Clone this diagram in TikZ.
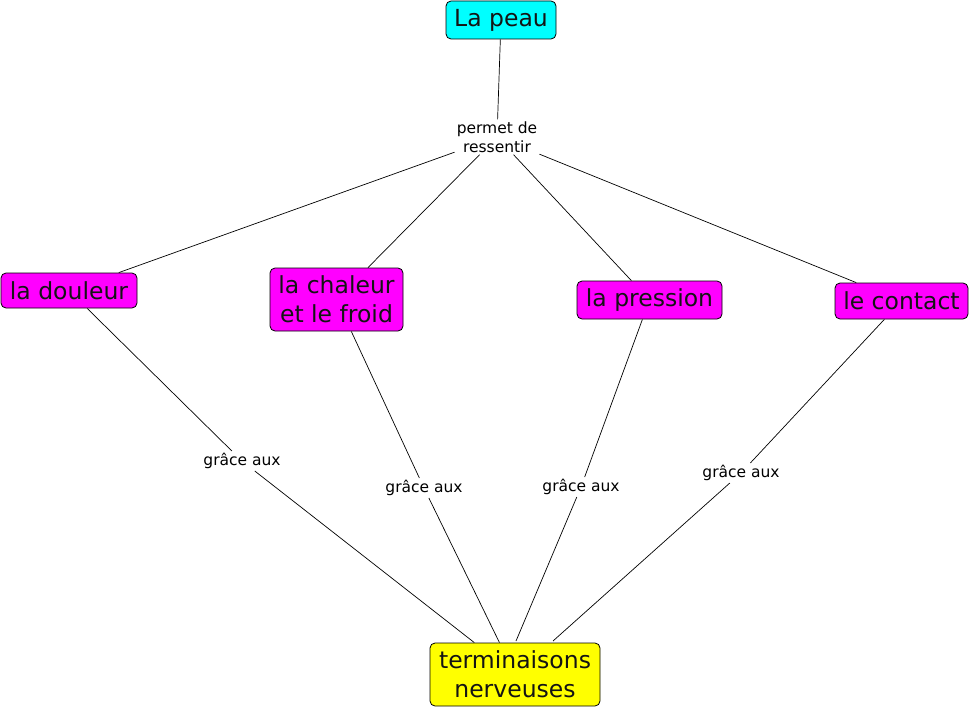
\documentclass[tikz,border=0pt]{standalone}
\usepackage{fontspec}
\setmainfont{DejaVu Sans}
\definecolor{cyanbox}{RGB}{0,255,255}
\definecolor{magbox}{RGB}{255,0,255}
\definecolor{yelbox}{RGB}{255,255,0}
\definecolor{txt}{RGB}{20,20,20}
\begin{document}
\begin{tikzpicture}[x=1pt,y=-1pt,
  concept/.style={draw=black, line width=0.8pt, rounded corners=5pt, inner sep=0pt,
    align=center, text=txt, font=\fontsize{23.5}{29}\selectfont},
  linkword/.style={inner sep=2pt, align=center, text=black, font=\fontsize{15.5}{19}\selectfont},
  conn/.style={draw=black, line width=0.7pt}
]
\useasboundingbox (0,0) rectangle (971,709);
\node[concept, fill=cyanbox, minimum width=110pt, minimum height=38pt] (peau) at (501,20) {La peau};
\node[concept, fill=magbox, minimum width=136pt, minimum height=35pt] (douleur) at (69,290.5) {la douleur};
\node[concept, fill=magbox, minimum width=133pt, minimum height=63pt] (chaleur) at (336.5,299.5) {la chaleur\\et le froid};
\node[concept, fill=magbox, minimum width=145pt, minimum height=38pt] (pression) at (649.5,300) {la pression};
\node[concept, fill=magbox, minimum width=133pt, minimum height=36pt] (contact) at (901.5,301) {le contact};
\node[concept, fill=yelbox, minimum width=170pt, minimum height=63pt] (term) at (515,674.5) {terminaisons\\nerveuses};

\node[linkword] (perm) at (497,137) {permet de\\ressentir};
\node[linkword] (g1) at (242,461) {grâce aux};
\node[linkword] (g2) at (424,488) {grâce aux};
\node[linkword] (g3) at (581,487) {grâce aux};
\node[linkword] (g4) at (741,473) {grâce aux};

\coordinate (t3) at (516,641);
\coordinate (t4) at (553,641);

\draw[conn] (peau) -- (perm);
\draw[conn] (perm) -- (douleur);
\draw[conn] (perm) -- (chaleur);
\draw[conn] (perm) -- (pression);
\draw[conn] (perm) -- (contact);
\draw[conn] (douleur) -- (g1);
\draw[conn] (g1) -- (term);
\draw[conn] (chaleur) -- (g2);
\draw[conn] (g2) -- (term);
\draw[conn] (pression) -- (g3);
\draw[conn] (g3) -- (t3);
\draw[conn] (contact) -- (g4);
\draw[conn] (g4) -- (t4);
\end{tikzpicture}
\end{document}
